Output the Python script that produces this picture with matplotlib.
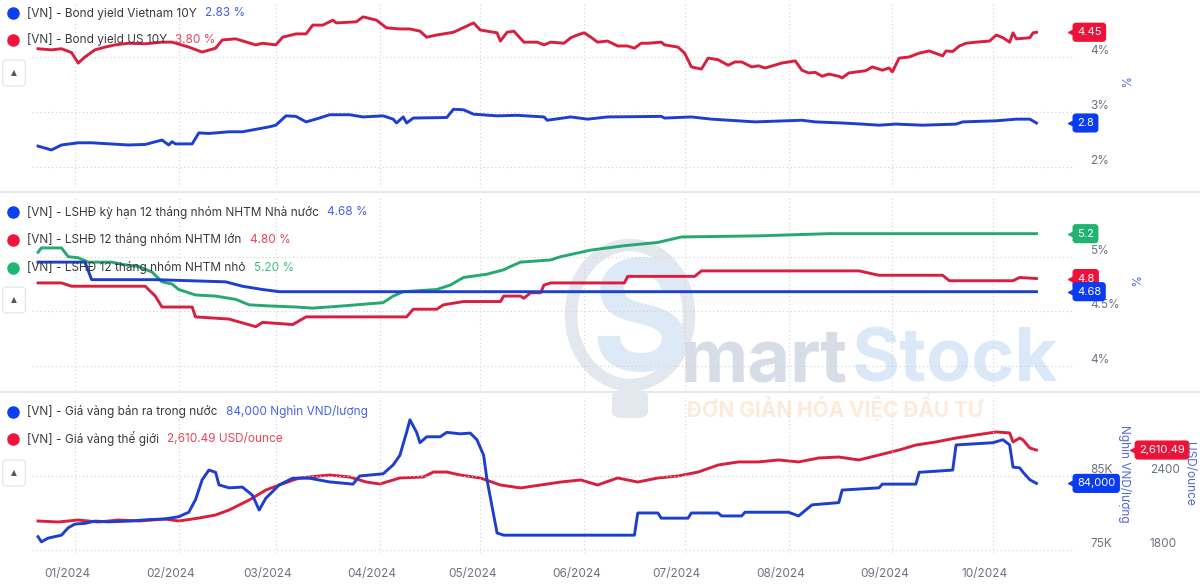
import matplotlib
matplotlib.use("Agg")
import matplotlib.pyplot as plt
import matplotlib.dates as mdates
import matplotlib.transforms as mtransforms
from matplotlib.lines import Line2D
from matplotlib.patches import Ellipse, FancyBboxPatch
import pandas as pd

plt.rcParams['font.family'] = ['Inter', 'DejaVu Sans']

# ---- panel 1: bond yields (%)
vn10y_dates = ["2023-12-21", "2023-12-25", "2023-12-28", "2024-01-02", "2024-01-06", "2024-01-17",
               "2024-01-22", "2024-01-27", "2024-01-29", "2024-01-30", "2024-01-31", "2024-02-05",
               "2024-02-07", "2024-02-10", "2024-02-16", "2024-02-20", "2024-02-28", "2024-03-01",
               "2024-03-04", "2024-03-07", "2024-03-10", "2024-03-14", "2024-03-17", "2024-03-23",
               "2024-03-27", "2024-04-02", "2024-04-05", "2024-04-06", "2024-04-08", "2024-04-09",
               "2024-04-11", "2024-04-21", "2024-04-23", "2024-04-26", "2024-04-29", "2024-05-06",
               "2024-05-12", "2024-05-20", "2024-05-21", "2024-05-28", "2024-06-02", "2024-06-08",
               "2024-06-24", "2024-06-25", "2024-07-03", "2024-07-09", "2024-07-22", "2024-08-05",
               "2024-08-09", "2024-08-17", "2024-08-23", "2024-08-28", "2024-09-02", "2024-09-10",
               "2024-09-20", "2024-09-22", "2024-10-02", "2024-10-08", "2024-10-12", "2024-10-14"]
vn10y = [2.38, 2.31, 2.40, 2.44, 2.44, 2.40, 2.41, 2.49, 2.40, 2.46, 2.42, 2.42,
         2.62, 2.61, 2.64, 2.64, 2.73, 2.76, 2.93, 2.92, 2.82, 2.89, 2.95, 2.95,
         2.91, 2.93, 2.87, 2.80, 2.91, 2.80, 2.89, 2.90, 3.05, 3.04, 2.96, 2.93,
         2.94, 2.91, 2.85, 2.91, 2.87, 2.91, 2.92, 2.89, 2.91, 2.87, 2.82, 2.85,
         2.82, 2.80, 2.78, 2.76, 2.78, 2.76, 2.78, 2.82, 2.84, 2.87, 2.87, 2.80]

us10y_dates = ["2023-12-21", "2023-12-25", "2023-12-28", "2023-12-31", "2024-01-02", "2024-01-04",
               "2024-01-07", "2024-01-10", "2024-01-13", "2024-01-17", "2024-01-22", "2024-01-27",
               "2024-01-30", "2024-02-04", "2024-02-08", "2024-02-12", "2024-02-14", "2024-02-18",
               "2024-02-24", "2024-02-26", "2024-03-01", "2024-03-03", "2024-03-07", "2024-03-10",
               "2024-03-12", "2024-03-15", "2024-03-18", "2024-03-19", "2024-03-25", "2024-03-27",
               "2024-03-31", "2024-04-03", "2024-04-07", "2024-04-10", "2024-04-13", "2024-04-15",
               "2024-04-18", "2024-04-23", "2024-04-29", "2024-05-01", "2024-05-06", "2024-05-07",
               "2024-05-09", "2024-05-11", "2024-05-14", "2024-05-18", "2024-05-20", "2024-05-22",
               "2024-05-26", "2024-05-28", "2024-05-30", "2024-06-01", "2024-06-03", "2024-06-05",
               "2024-06-08", "2024-06-11", "2024-06-14", "2024-06-16", "2024-06-18", "2024-06-20",
               "2024-06-24", "2024-06-25", "2024-06-29", "2024-07-01", "2024-07-03", "2024-07-06",
               "2024-07-08", "2024-07-11", "2024-07-14", "2024-07-16", "2024-07-18", "2024-07-21",
               "2024-07-23", "2024-07-25", "2024-07-30", "2024-08-03", "2024-08-05", "2024-08-07",
               "2024-08-09", "2024-08-11", "2024-08-13", "2024-08-16", "2024-08-17", "2024-08-19",
               "2024-08-24", "2024-08-26", "2024-08-29", "2024-08-31", "2024-09-01", "2024-09-03",
               "2024-09-06", "2024-09-09", "2024-09-12", "2024-09-16", "2024-09-17", "2024-09-19",
               "2024-09-21", "2024-09-23", "2024-09-26", "2024-09-30", "2024-10-02", "2024-10-04",
               "2024-10-06", "2024-10-07", "2024-10-08", "2024-10-10", "2024-10-12", "2024-10-13",
               "2024-10-14"]
us10y = [4.15, 4.13, 4.15, 4.08, 3.89, 4.00, 4.13, 4.18, 4.22, 4.25, 4.24, 4.27,
         4.27, 4.18, 4.09, 4.16, 4.31, 4.33, 4.22, 4.25, 4.22, 4.36, 4.42, 4.42,
         4.58, 4.58, 4.67, 4.62, 4.64, 4.73, 4.67, 4.53, 4.51, 4.51, 4.47, 4.36,
         4.40, 4.45, 4.62, 4.49, 4.44, 4.29, 4.45, 4.47, 4.27, 4.27, 4.22, 4.27,
         4.25, 4.35, 4.40, 4.44, 4.36, 4.27, 4.29, 4.20, 4.20, 4.16, 4.25, 4.25,
         4.27, 4.22, 4.18, 4.07, 3.82, 3.78, 3.98, 3.95, 3.85, 3.91, 3.91, 3.82,
         3.84, 3.80, 3.89, 3.93, 3.76, 3.71, 3.72, 3.65, 3.69, 3.65, 3.62, 3.71,
         3.75, 3.82, 3.76, 3.80, 3.73, 3.98, 4.00, 4.07, 4.11, 4.02, 4.11, 4.10,
         4.20, 4.25, 4.27, 4.29, 4.40, 4.35, 4.27, 4.44, 4.33, 4.34, 4.35, 4.44,
         4.45]

# ---- panel 2: 12-month deposit rates (%)
state_dates = ["2023-12-21", "2024-01-04", "2024-01-06", "2024-01-25", "2024-02-15", "2024-02-20",
               "2024-02-26", "2024-03-02", "2024-10-14"]
state_rate = [4.95, 4.95, 4.79, 4.79, 4.77, 4.73, 4.70, 4.68, 4.68]

large_dates = ["2023-12-21", "2023-12-28", "2023-12-31", "2024-01-22", "2024-01-25", "2024-01-27",
               "2024-02-05", "2024-02-06", "2024-02-16", "2024-02-24", "2024-02-26", "2024-03-06",
               "2024-03-10", "2024-04-09", "2024-04-11", "2024-04-18", "2024-04-20", "2024-04-26",
               "2024-05-07", "2024-05-08", "2024-05-13", "2024-05-14", "2024-05-16", "2024-05-19",
               "2024-05-20", "2024-05-22", "2024-06-13", "2024-06-14", "2024-07-04", "2024-07-06",
               "2024-08-22", "2024-08-28", "2024-09-16", "2024-09-18", "2024-10-07", "2024-10-09",
               "2024-10-14"]
large_rate = [4.76, 4.76, 4.73, 4.73, 4.64, 4.54, 4.54, 4.45, 4.43, 4.36, 4.40, 4.38,
              4.45, 4.45, 4.52, 4.52, 4.56, 4.59, 4.59, 4.64, 4.64, 4.62, 4.67, 4.67,
              4.74, 4.76, 4.76, 4.82, 4.82, 4.87, 4.87, 4.83, 4.83, 4.78, 4.78, 4.81,
              4.80]

small_dates = ["2023-12-21", "2023-12-22", "2023-12-28", "2023-12-30", "2024-01-02", "2024-01-05",
               "2024-01-12", "2024-01-15", "2024-01-20", "2024-01-24", "2024-01-27", "2024-01-30",
               "2024-02-01", "2024-02-06", "2024-02-12", "2024-02-18", "2024-02-22", "2024-02-28",
               "2024-03-07", "2024-03-12", "2024-03-21", "2024-03-25", "2024-04-02", "2024-04-05",
               "2024-04-08", "2024-04-18", "2024-04-22", "2024-04-26", "2024-05-03", "2024-05-08",
               "2024-05-10", "2024-05-13", "2024-05-22", "2024-05-25", "2024-06-03", "2024-06-13",
               "2024-06-23", "2024-06-30", "2024-07-23", "2024-08-13", "2024-10-14"]
small_rate = [5.04, 5.08, 5.08, 5.00, 4.99, 4.95, 4.95, 4.93, 4.91, 4.86, 4.77, 4.75,
              4.70, 4.65, 4.64, 4.61, 4.56, 4.55, 4.54, 4.53, 4.55, 4.56, 4.58, 4.64,
              4.68, 4.70, 4.74, 4.81, 4.84, 4.88, 4.91, 4.95, 4.97, 5.00, 5.06, 5.10,
              5.13, 5.18, 5.19, 5.21, 5.21]

# ---- panel 3: gold prices
gold_vn_dates = ["2023-12-21", "2023-12-22", "2023-12-24", "2023-12-26", "2023-12-28", "2023-12-30",
                 "2024-01-01", "2024-01-04", "2024-01-07", "2024-01-11", "2024-01-17", "2024-01-23",
                 "2024-01-28", "2024-02-01", "2024-02-04", "2024-02-06", "2024-02-08", "2024-02-10",
                 "2024-02-12", "2024-02-13", "2024-02-16", "2024-02-20", "2024-02-23", "2024-02-25",
                 "2024-02-27", "2024-03-02", "2024-03-06", "2024-03-11", "2024-03-17", "2024-03-24",
                 "2024-03-26", "2024-04-02", "2024-04-05", "2024-04-07", "2024-04-09", "2024-04-10",
                 "2024-04-12", "2024-04-13", "2024-04-15", "2024-04-19", "2024-04-21", "2024-04-25",
                 "2024-04-28", "2024-04-30", "2024-05-02", "2024-05-03", "2024-05-05", "2024-05-06",
                 "2024-05-08", "2024-06-16", "2024-06-17", "2024-06-23", "2024-06-24", "2024-07-02",
                 "2024-07-03", "2024-07-11", "2024-07-12", "2024-07-18", "2024-07-19", "2024-08-01",
                 "2024-08-04", "2024-08-08", "2024-08-16", "2024-08-17", "2024-08-28", "2024-08-29",
                 "2024-09-08", "2024-09-09", "2024-09-19", "2024-09-20", "2024-10-01", "2024-10-04",
                 "2024-10-06", "2024-10-07", "2024-10-09", "2024-10-10", "2024-10-12", "2024-10-14"]
gold_vn = [76.8, 76.1, 76.6, 76.8, 77.0, 78.0, 78.5, 78.6, 78.9, 78.8, 78.9, 79.1,
           79.2, 79.5, 80.1, 81.8, 84.5, 85.8, 85.5, 83.8, 83.4, 83.5, 82.4, 80.4,
           82.0, 83.8, 84.7, 84.7, 84.2, 83.9, 85.0, 85.3, 86.5, 87.8, 90.9, 92.6,
           90.9, 89.5, 90.3, 90.3, 90.9, 90.7, 90.8, 89.9, 87.8, 84.5, 79.7, 77.3,
           77.0, 77.0, 80.0, 80.0, 79.3, 79.3, 80.0, 80.0, 79.6, 79.6, 80.1, 80.1,
           79.6, 81.1, 81.4, 83.1, 83.4, 83.9, 83.9, 85.5, 85.8, 89.2, 89.5, 89.9,
           89.2, 86.2, 86.1, 85.5, 84.5, 84.0]

gold_world_dates = ["2023-12-21", "2023-12-27", "2024-01-02", "2024-01-08", "2024-01-14", "2024-01-20",
                    "2024-01-28", "2024-02-01", "2024-02-07", "2024-02-12", "2024-02-16", "2024-02-22",
                    "2024-02-27", "2024-03-02", "2024-03-08", "2024-03-17", "2024-03-23", "2024-03-28",
                    "2024-04-01", "2024-04-07", "2024-04-14", "2024-04-17", "2024-04-21", "2024-04-25",
                    "2024-05-01", "2024-05-07", "2024-05-13", "2024-05-19", "2024-05-25", "2024-05-31",
                    "2024-06-05", "2024-06-11", "2024-06-17", "2024-06-23", "2024-06-29", "2024-07-05",
                    "2024-07-11", "2024-07-17", "2024-07-23", "2024-07-29", "2024-08-04", "2024-08-10",
                    "2024-08-16", "2024-08-22", "2024-08-28", "2024-09-03", "2024-09-08", "2024-09-14",
                    "2024-09-20", "2024-09-26", "2024-10-02", "2024-10-06", "2024-10-07", "2024-10-09",
                    "2024-10-10", "2024-10-12", "2024-10-14"]
gold_world = [2035, 2027, 2043, 2027, 2043, 2035, 2051, 2035, 2059, 2084, 2124, 2205,
              2286, 2327, 2384, 2408, 2392, 2351, 2335, 2384, 2392, 2432, 2432, 2408,
              2384, 2327, 2303, 2327, 2351, 2368, 2327, 2384, 2351, 2384, 2400, 2432,
              2489, 2514, 2514, 2530, 2514, 2546, 2554, 2530, 2570, 2611, 2651, 2676,
              2708, 2733, 2757, 2749, 2676, 2708, 2692, 2627, 2610.49]

BLUE, RED, GREEN = "#1d3fd0", "#d81f3f", "#27a872"
TAG_BLUE, TAG_RED, TAG_GREEN = "#0b3bf0", "#ee1238", "#22b372"
GREY = "#6b7280"

fig = plt.figure(figsize=(12, 5.86), dpi=100)
H = 586.0


def px_axes(top, bottom):
    return fig.add_axes([32 / 1200, 1 - bottom / H, 1043 / 1200, (bottom - top) / H])


ax1 = px_axes(2, 188)
ax2 = px_axes(197, 390)
ax3 = px_axes(397, 553)
ax3b = ax3.twinx()

x0 = pd.Timestamp("2024-01-01") - pd.Timedelta(days=12.8)
x1 = pd.Timestamp("2024-01-01") + pd.Timedelta(days=298.5)
shift = mtransforms.ScaledTranslation(0, 0.075, fig.dpi_scale_trans)
xshift = mtransforms.ScaledTranslation(-0.08, 0, fig.dpi_scale_trans)


def style(ax, ticks, labels, lo, hi, pad=11, grid=True):
    ax.set_facecolor("none")
    for s in ax.spines.values():
        s.set_visible(False)
    ax.set_ylim(lo, hi)
    ax.set_yticks(ticks)
    ax.set_yticklabels(labels)
    ax.yaxis.tick_right()
    ax.tick_params(axis="y", length=0, pad=pad, labelsize=8.5, labelcolor=GREY)
    ax.tick_params(axis="x", length=0, labelsize=8.5, labelcolor=GREY, pad=11)
    if grid:
        ax.grid(True, ls=(0, (1, 2.5)), color="#d0d0d0", lw=0.8)
    for lab in ax.get_yticklabels():
        lab.set_transform(lab.get_transform() + shift)


for ax in (ax1, ax2, ax3):
    ax.set_xlim(x0, x1)
    ax.xaxis.set_major_locator(mdates.MonthLocator())
    ax.xaxis.set_major_formatter(mdates.DateFormatter("%m/%Y"))

style(ax1, [2, 3, 4], ["2%", "3%", "4%"], 1.618, 5.0)
style(ax2, [4, 4.5, 5], ["4%", "4.5%", "5%"], 3.782, 5.545)
style(ax3, [75, 85], ["75K", "85K"], 74.59, 95.68)
style(ax3b, [1800, 2400], ["1800", "2400"], 1775.7, 3040.5, pad=54, grid=False)
ax1.tick_params(labelbottom=False)
ax2.tick_params(labelbottom=False)
for lab in ax3.get_xticklabels():
    lab.set_transform(lab.get_transform() + xshift)

d = pd.to_datetime
lw = 2.1
ax1.plot(d(us10y_dates), us10y, color=RED, lw=lw)
ax1.plot(d(vn10y_dates), vn10y, color=BLUE, lw=lw)
ax2.plot(d(small_dates), small_rate, color=GREEN, lw=lw)
ax2.plot(d(large_dates), large_rate, color=RED, lw=lw)
ax2.plot(d(state_dates), state_rate, color=BLUE, lw=lw)
ax3b.plot(d(gold_world_dates), gold_world, color=RED, lw=lw)
ax3.plot(d(gold_vn_dates), gold_vn, color=BLUE, lw=lw)
ax3.set_zorder(ax3b.get_zorder() + 1)


def tag(ax, y, text, color, xfrac):
    tr = mtransforms.blended_transform_factory(ax.transAxes, ax.transData)
    ax.plot([xfrac], [y], marker="<", ms=7, color=color, transform=tr, clip_on=False, zorder=5)
    ax.text(xfrac + 0.004, y, text, transform=tr, color="white", fontsize=8, va="center", ha="left",
            bbox=dict(boxstyle="round,pad=0.35,rounding_size=0.25", fc=color, ec=color),
            zorder=6, clip_on=False)


tag(ax1, us10y[-1], "4.45", TAG_RED, 0.998)
tag(ax1, vn10y[-1], "2.8", TAG_BLUE, 0.998)
tag(ax2, small_rate[-1], "5.2", TAG_GREEN, 0.998)
tag(ax2, large_rate[-1], "4.8", TAG_RED, 0.998)
tag(ax2, state_rate[-1], "4.68", TAG_BLUE, 0.998)
tag(ax3, gold_vn[-1], "84,000", TAG_BLUE, 0.998)
tag(ax3b, gold_world[-1], "2,610.49", TAG_RED, 1.0575)


def legend_row(ypx, label, value, dot_color, val_color):
    y = 1 - ypx / H
    fig.add_artist(Line2D([13 / 1200], [y], marker="o", ms=8, color=dot_color, lw=0,
                          transform=fig.transFigure))
    t = fig.text(27 / 1200, y, label, fontsize=8.5, color="#3a3a3a", va="center")
    ax1.annotate(value, xy=(1, 0.5), xycoords=t, xytext=(6, 0), textcoords="offset points",
                 va="center", fontsize=8.5, color=val_color, annotation_clip=False)


legend_row(13, "[VN] - Bond yield Vietnam 10Y", "2.83 %", "#0b3ff0", "#4660e6")
legend_row(40, "[VN] - Bond yield US 10Y", "3.80 %", "#f0133c", "#e8445c")
legend_row(212, "[VN] - LSHĐ kỳ hạn 12 tháng nhóm NHTM Nhà nước", "4.68 %", "#0b3ff0", "#4660e6")
legend_row(240, "[VN] - LSHĐ 12 tháng nhóm NHTM lớn", "4.80 %", "#f0133c", "#e8445c")
legend_row(268, "[VN] - LSHĐ 12 tháng nhóm NHTM nhỏ", "5.20 %", "#1fb872", "#3dbb82")
legend_row(412, "[VN] - Giá vàng bán ra trong nước", "84,000 Nghìn VND/lượng", "#0b3ff0", "#4660e6")
legend_row(439, "[VN] - Giá vàng thế giới", "2,610.49 USD/ounce", "#f0133c", "#e8445c")

# collapse buttons
for ypx in (73, 300, 473):
    fig.text(14 / 1200, 1 - ypx / H, "▲", ha="center", va="center", fontsize=5.5, color="#555",
             family=["DejaVu Sans"],
             bbox=dict(boxstyle="round,pad=1.1,rounding_size=0.4", fc="white", ec="#e2e2e2", lw=0.8))

# axis titles
ax_col = "#5566d8"
fig.text(1123 / 1200, 1 - 83 / H, "%", rotation=-90, ha="center", va="center", fontsize=8.5, color=ax_col)
fig.text(1133 / 1200, 1 - 282 / H, "%", rotation=-90, ha="center", va="center", fontsize=8.5, color=ax_col)
fig.text(1124 / 1200, 1 - 474 / H, "Nghìn VND/lượng", rotation=-90, ha="center", va="center",
         fontsize=8.5, color=ax_col)
fig.text(1189 / 1200, 1 - 474 / H, "USD/ounce", rotation=-90, ha="center", va="center",
         fontsize=8.5, color=ax_col)

# panel separators
for ypx in (192, 392):
    fig.add_artist(Line2D([0, 1], [1 - ypx / H] * 2, color="#e8e8e8", lw=1.5, transform=fig.transFigure))

# watermark (light bulb logo + brand text)
fig.add_artist(Ellipse((630 / 1200, 1 - 315 / H), 118 / 1200, 140 / H, fill=False, ec="#e3e8ef", lw=9,
                       transform=fig.transFigure, zorder=-2))
fig.add_artist(FancyBboxPatch((612 / 1200, 1 - 418 / H), 36 / 1200, 28 / H,
                              boxstyle="round,pad=0,rounding_size=0.01", fc="#e3e8ef", ec="none",
                              transform=fig.transFigure, zorder=-2))
fig.text(640 / 1200, 1 - 330 / H, "S", fontsize=110, fontweight="bold", color="#dde9f6",
         ha="center", va="center", zorder=-1)
fig.text(680 / 1200, 1 - 381 / H, "mart", fontsize=53, fontweight="bold", color="#d6dde6",
         ha="left", va="baseline", zorder=-1)
fig.text(852 / 1200, 1 - 381 / H, "Stock", fontsize=53, fontweight="bold", color="#dbe8f7",
         ha="left", va="baseline", zorder=-1)
fig.text(835 / 1200, 1 - 407 / H, "ĐƠN GIẢN HÓA VIỆC ĐẦU TƯ", fontsize=15, fontweight="bold",
         color="#fdeadb", ha="center", va="center", zorder=-1)

fig.savefig("out.png", dpi=100)
